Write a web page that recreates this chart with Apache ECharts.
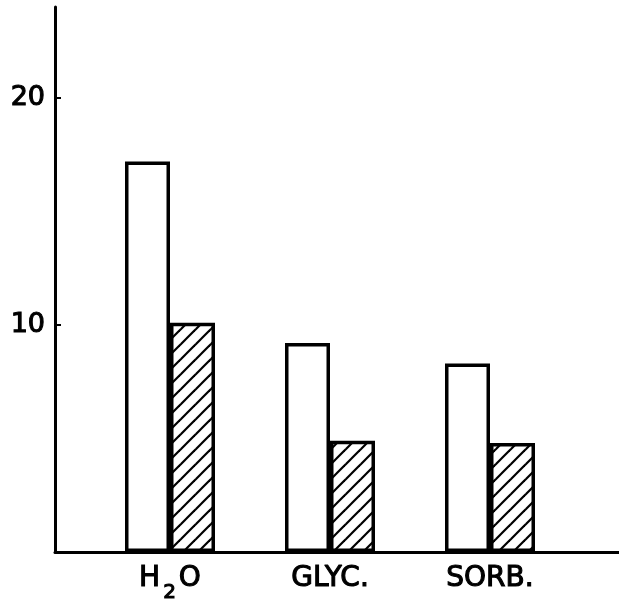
<!DOCTYPE html>
<html>
<head>
<meta charset="utf-8">
<script src="https://cdn.jsdelivr.net/npm/echarts@6/dist/echarts.min.js"></script>
<style>html,body{margin:0;padding:0;background:#fff;}#c{width:619px;height:603px;}</style>
</head>
<body>
<div id="c"></div>
<script>
var categories = ['H2O', 'GLYC.', 'SORB.'];
var openValues = [17.2, 9.2, 8.3];
var hatchedValues = [10.1, 4.9, 4.8];
var yTicks = [10, 20];

function hatchPattern() {
  var s = 15;
  var cv = document.createElement('canvas');
  cv.width = s; cv.height = s;
  var ctx = cv.getContext('2d');
  ctx.fillStyle = '#fff';
  ctx.fillRect(0, 0, s, s);
  ctx.strokeStyle = '#000';
  ctx.lineWidth = 2.2;
  for (var k = -1; k <= 1; k++) {
    ctx.beginPath();
    ctx.moveTo(-2 + k * s, s + 2);
    ctx.lineTo(s + 2 + k * s, -2);
    ctx.stroke();
  }
  return cv;
}

var chart = echarts.init(document.getElementById('c'), null, {renderer: 'canvas'});
var positions = categories.map(function (c, i) { return i + 1; });
var txt = {fontFamily: 'DejaVu Sans', color: '#000', textBorderColor: '#000', textBorderWidth: 1.1};

chart.setOption({
  animation: false,
  backgroundColor: '#fff',
  grid: {left: 55, right: 0, top: 7, bottom: 51, outerBoundsMode: 'none', containLabel: false},
  xAxis: {
    type: 'value',
    min: 0.28125,
    max: 3.80625,
    splitLine: {show: false},
    axisTick: {show: false},
    axisLine: {show: true, lineStyle: {color: '#000', width: 3}},
    axisLabel: {
      customValues: positions,
      margin: 13,
      fontSize: 28,
      fontFamily: 'DejaVu Sans',
      color: '#000',
      textBorderColor: '#000',
      textBorderWidth: 1.1,
      formatter: function (v) {
        var name = categories[Math.round(v) - 1] || '';
        if (name === 'H2O') return '{n|H}{s|2}{n|O}';
        return '{n|' + name + '}';
      },
      rich: {
        n: Object.assign({fontSize: 28, lineHeight: 31, verticalAlign: 'top'}, txt),
        s: Object.assign({fontSize: 20, lineHeight: 22, verticalAlign: 'top', padding: [18, 3, 0, 3]}, txt)
      }
    }
  },
  yAxis: {
    type: 'value',
    min: 0,
    max: 24,
    interval: 10,
    splitLine: {show: false},
    axisLine: {show: true, lineStyle: {color: '#000', width: 3}},
    axisTick: {show: true, inside: true, length: 6, customValues: yTicks, lineStyle: {color: '#000', width: 2}},
    axisLabel: {
      margin: 10,
      fontSize: 27,
      fontFamily: 'DejaVu Sans',
      color: '#000',
      textBorderColor: '#000',
      textBorderWidth: 1.1,
      customValues: yTicks
    }
  },
  series: [
    {
      type: 'bar',
      barWidth: 45,
      barGap: '0%',
      data: openValues.map(function (v, i) { return [positions[i], v]; }),
      itemStyle: {color: '#fff', borderColor: '#000', borderWidth: 3.5}
    },
    {
      type: 'bar',
      barWidth: 45,
      barGap: '0%',
      data: hatchedValues.map(function (v, i) { return [positions[i], v]; }),
      itemStyle: {color: {image: hatchPattern(), repeat: 'repeat'}, borderColor: '#000', borderWidth: 3.5}
    }
  ]
});
</script>
</body>
</html>
